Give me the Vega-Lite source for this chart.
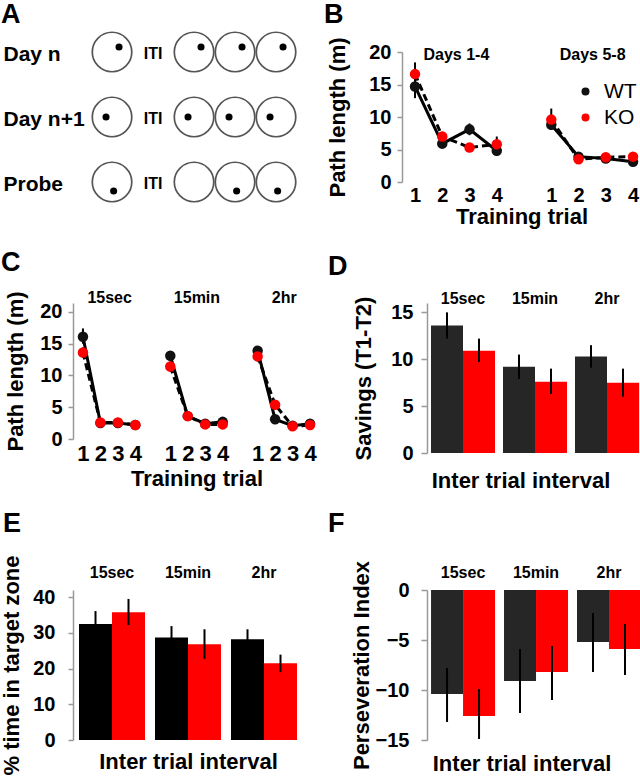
{
  "$schema": "https://vega.github.io/schema/vega-lite/v6.json",
  "background": "#ffffff",
  "padding": {"left": 0, "top": 0, "right": 0, "bottom": 0},
  "columns": 2,
  "bounds": "flush",
  "spacing": {"row": 121, "column": 82},
  "resolve": {
    "scale": {"color": "independent"},
    "legend": {"color": "independent"}
  },
  "config": {
    "font": "Liberation Sans",
    "view": {"stroke": null},
    "axis": {
      "grid": false, "domainColor": "#999999", "tickColor": "#999999", "domainWidth": 1.5, "tickWidth": 1.5,
      "labelFont": "Liberation Sans", "titleFont": "Liberation Sans", "labelFontWeight": "bold", "titleFontWeight": "bold",
      "labelColor": "#000000", "titleColor": "#000000", "labelFontSize": 20, "titleFontSize": 22
    },
    "title": {"font": "Liberation Sans", "fontSize": 27, "fontWeight": "bold", "anchor": "start", "frame": "group", "baseline": "alphabetic", "color": "#000000"},
    "text": {"font": "Liberation Sans", "color": "#000000"}
  },
  "datasets": {
    "pools": [
      {"session": "Day n", "stage": "Trial 1"}, {"session": "Day n", "stage": "Trial 2"}, {"session": "Day n", "stage": "Trial 3"}, {"session": "Day n", "stage": "Trial 4"},
      {"session": "Day n+1", "stage": "Trial 1"}, {"session": "Day n+1", "stage": "Trial 2"}, {"session": "Day n+1", "stage": "Trial 3"}, {"session": "Day n+1", "stage": "Trial 4"},
      {"session": "Probe", "stage": "Trial 1"}, {"session": "Probe", "stage": "Trial 2"}, {"session": "Probe", "stage": "Trial 3"}, {"session": "Probe", "stage": "Trial 4"}
    ],
    "platforms": [
      {"session": "Day n", "stage": "Trial 1", "px": 0.35, "py": 0.25},
      {"session": "Day n", "stage": "Trial 2", "px": 0.35, "py": 0.25},
      {"session": "Day n", "stage": "Trial 3", "px": 0.35, "py": 0.25},
      {"session": "Day n", "stage": "Trial 4", "px": 0.35, "py": 0.25},
      {"session": "Day n+1", "stage": "Trial 1", "px": -0.3, "py": 0},
      {"session": "Day n+1", "stage": "Trial 2", "px": -0.3, "py": 0},
      {"session": "Day n+1", "stage": "Trial 3", "px": -0.3, "py": 0},
      {"session": "Day n+1", "stage": "Trial 4", "px": -0.3, "py": 0},
      {"session": "Probe", "stage": "Trial 1", "px": 0.08, "py": -0.45},
      {"session": "Probe", "stage": "Trial 3", "px": 0.08, "py": -0.45},
      {"session": "Probe", "stage": "Trial 4", "px": 0.08, "py": -0.45}
    ],
    "iti": [
      {"session": "Day n", "stage": "ITI", "label": "ITI"},
      {"session": "Day n+1", "stage": "ITI", "label": "ITI"},
      {"session": "Probe", "stage": "ITI", "label": "ITI"}
    ],
    "pathB": [
      {"session": "Days 1-4", "trial": 1, "key": "Days 1-4, trial 1", "genotype": "WT", "mean": 14.7, "lo": 12.9, "hi": 16.5},
      {"session": "Days 1-4", "trial": 2, "key": "Days 1-4, trial 2", "genotype": "WT", "mean": 5.9, "lo": 5.3, "hi": 6.5},
      {"session": "Days 1-4", "trial": 3, "key": "Days 1-4, trial 3", "genotype": "WT", "mean": 8.1, "lo": 7.2, "hi": 9.0},
      {"session": "Days 1-4", "trial": 4, "key": "Days 1-4, trial 4", "genotype": "WT", "mean": 4.8, "lo": 4.0, "hi": 5.6},
      {"session": "Days 5-8", "trial": 1, "key": "Days 5-8, trial 1", "genotype": "WT", "mean": 8.8, "lo": 8.0, "hi": 9.6},
      {"session": "Days 5-8", "trial": 2, "key": "Days 5-8, trial 2", "genotype": "WT", "mean": 3.9, "lo": 3.6, "hi": 4.2},
      {"session": "Days 5-8", "trial": 3, "key": "Days 5-8, trial 3", "genotype": "WT", "mean": 3.6, "lo": 3.3, "hi": 3.9},
      {"session": "Days 5-8", "trial": 4, "key": "Days 5-8, trial 4", "genotype": "WT", "mean": 3.1, "lo": 2.8, "hi": 3.4},
      {"session": "Days 1-4", "trial": 1, "key": "Days 1-4, trial 1", "genotype": "KO", "mean": 16.6, "lo": 14.8, "hi": 18.4},
      {"session": "Days 1-4", "trial": 2, "key": "Days 1-4, trial 2", "genotype": "KO", "mean": 7.0, "lo": 6.3, "hi": 7.7},
      {"session": "Days 1-4", "trial": 3, "key": "Days 1-4, trial 3", "genotype": "KO", "mean": 5.3, "lo": 4.8, "hi": 5.8},
      {"session": "Days 1-4", "trial": 4, "key": "Days 1-4, trial 4", "genotype": "KO", "mean": 5.8, "lo": 4.9, "hi": 7.0},
      {"session": "Days 5-8", "trial": 1, "key": "Days 5-8, trial 1", "genotype": "KO", "mean": 9.6, "lo": 8.2, "hi": 11.3},
      {"session": "Days 5-8", "trial": 2, "key": "Days 5-8, trial 2", "genotype": "KO", "mean": 3.5, "lo": 3.2, "hi": 3.8},
      {"session": "Days 5-8", "trial": 3, "key": "Days 5-8, trial 3", "genotype": "KO", "mean": 3.8, "lo": 3.5, "hi": 4.1},
      {"session": "Days 5-8", "trial": 4, "key": "Days 5-8, trial 4", "genotype": "KO", "mean": 3.9, "lo": 3.5, "hi": 4.3}
    ],
    "pathC": [
      {"interval": "15sec", "trial": 1, "key": "15sec, trial 1", "genotype": "WT", "mean": 16.1, "lo": 15.0, "hi": 17.4},
      {"interval": "15sec", "trial": 2, "key": "15sec, trial 2", "genotype": "WT", "mean": 2.5, "lo": 2.2, "hi": 2.8},
      {"interval": "15sec", "trial": 3, "key": "15sec, trial 3", "genotype": "WT", "mean": 2.5, "lo": 2.2, "hi": 2.8},
      {"interval": "15sec", "trial": 4, "key": "15sec, trial 4", "genotype": "WT", "mean": 2.2, "lo": 1.9, "hi": 2.5},
      {"interval": "15min", "trial": 1, "key": "15min, trial 1", "genotype": "WT", "mean": 13.1, "lo": 12.4, "hi": 13.8},
      {"interval": "15min", "trial": 2, "key": "15min, trial 2", "genotype": "WT", "mean": 3.6, "lo": 3.2, "hi": 4.0},
      {"interval": "15min", "trial": 3, "key": "15min, trial 3", "genotype": "WT", "mean": 2.4, "lo": 2.1, "hi": 2.7},
      {"interval": "15min", "trial": 4, "key": "15min, trial 4", "genotype": "WT", "mean": 2.7, "lo": 2.4, "hi": 3.0},
      {"interval": "2hr", "trial": 1, "key": "2hr, trial 1", "genotype": "WT", "mean": 13.9, "lo": 13.2, "hi": 14.6},
      {"interval": "2hr", "trial": 2, "key": "2hr, trial 2", "genotype": "WT", "mean": 3.1, "lo": 2.7, "hi": 3.5},
      {"interval": "2hr", "trial": 3, "key": "2hr, trial 3", "genotype": "WT", "mean": 2.1, "lo": 1.8, "hi": 2.4},
      {"interval": "2hr", "trial": 4, "key": "2hr, trial 4", "genotype": "WT", "mean": 2.4, "lo": 2.1, "hi": 2.7},
      {"interval": "15sec", "trial": 1, "key": "15sec, trial 1", "genotype": "KO", "mean": 13.6, "lo": 12.8, "hi": 14.4},
      {"interval": "15sec", "trial": 2, "key": "15sec, trial 2", "genotype": "KO", "mean": 2.6, "lo": 2.3, "hi": 2.9},
      {"interval": "15sec", "trial": 3, "key": "15sec, trial 3", "genotype": "KO", "mean": 2.6, "lo": 2.3, "hi": 2.9},
      {"interval": "15sec", "trial": 4, "key": "15sec, trial 4", "genotype": "KO", "mean": 2.2, "lo": 1.9, "hi": 2.5},
      {"interval": "15min", "trial": 1, "key": "15min, trial 1", "genotype": "KO", "mean": 11.4, "lo": 10.6, "hi": 12.2},
      {"interval": "15min", "trial": 2, "key": "15min, trial 2", "genotype": "KO", "mean": 3.6, "lo": 3.2, "hi": 4.0},
      {"interval": "15min", "trial": 3, "key": "15min, trial 3", "genotype": "KO", "mean": 2.3, "lo": 2.0, "hi": 2.6},
      {"interval": "15min", "trial": 4, "key": "15min, trial 4", "genotype": "KO", "mean": 2.3, "lo": 2.0, "hi": 2.6},
      {"interval": "2hr", "trial": 1, "key": "2hr, trial 1", "genotype": "KO", "mean": 13.0, "lo": 12.2, "hi": 13.8},
      {"interval": "2hr", "trial": 2, "key": "2hr, trial 2", "genotype": "KO", "mean": 5.4, "lo": 4.9, "hi": 5.9},
      {"interval": "2hr", "trial": 3, "key": "2hr, trial 3", "genotype": "KO", "mean": 2.0, "lo": 1.7, "hi": 2.3},
      {"interval": "2hr", "trial": 4, "key": "2hr, trial 4", "genotype": "KO", "mean": 2.2, "lo": 1.9, "hi": 2.5}
    ],
    "savings": [
      {"interval": "15sec", "genotype": "WT", "mean": 13.6, "lo": 12.2, "hi": 15.0},
      {"interval": "15sec", "genotype": "KO", "mean": 10.9, "lo": 9.7, "hi": 12.2},
      {"interval": "15min", "genotype": "WT", "mean": 9.2, "lo": 7.9, "hi": 10.5},
      {"interval": "15min", "genotype": "KO", "mean": 7.6, "lo": 6.3, "hi": 9.0},
      {"interval": "2hr", "genotype": "WT", "mean": 10.3, "lo": 9.1, "hi": 11.5},
      {"interval": "2hr", "genotype": "KO", "mean": 7.5, "lo": 6.0, "hi": 9.0}
    ],
    "targetTime": [
      {"interval": "15sec", "genotype": "WT", "mean": 32.5, "lo": 28.8, "hi": 36.1},
      {"interval": "15sec", "genotype": "KO", "mean": 35.8, "lo": 32.2, "hi": 39.5},
      {"interval": "15min", "genotype": "WT", "mean": 28.7, "lo": 25.6, "hi": 31.9},
      {"interval": "15min", "genotype": "KO", "mean": 26.8, "lo": 22.7, "hi": 31.0},
      {"interval": "2hr", "genotype": "WT", "mean": 28.2, "lo": 25.8, "hi": 31.0},
      {"interval": "2hr", "genotype": "KO", "mean": 21.5, "lo": 19.0, "hi": 23.9}
    ],
    "perseveration": [
      {"interval": "15sec", "genotype": "WT", "mean": -10.4, "lo": -13.2, "hi": -7.8},
      {"interval": "15sec", "genotype": "KO", "mean": -12.6, "lo": -14.9, "hi": -9.9},
      {"interval": "15min", "genotype": "WT", "mean": -9.1, "lo": -12.3, "hi": -5.9},
      {"interval": "15min", "genotype": "KO", "mean": -8.2, "lo": -11.0, "hi": -5.6},
      {"interval": "2hr", "genotype": "WT", "mean": -5.2, "lo": -8.2, "hi": -2.3},
      {"interval": "2hr", "genotype": "KO", "mean": -5.9, "lo": -8.5, "hi": -3.4}
    ]
  },
  "concat": [
    {
      "width": 246, "height": 130,
      "title": {"text": "A", "dx": -72, "offset": 0},
      "encoding": {
        "x": {"field": "stage", "type": "nominal", "scale": {"type": "point", "domain": ["Trial 1", "ITI", "Trial 2", "Trial 3", "Trial 4"], "padding": 1, "align": 0.476}, "axis": null},
        "y": {"field": "session", "type": "nominal", "scale": {"type": "point", "domain": ["Day n", "Day n+1", "Probe"], "padding": 0},
          "axis": {"orient": "left", "domain": false, "ticks": false, "tickSize": 0, "labelAlign": "left", "labelPadding": 70, "labelFontSize": 21, "labelBaseline": "middle", "labelOffset": 2, "title": null, "minExtent": 0, "maxExtent": 0}}
      },
      "layer": [
        {"data": {"name": "pools"}, "mark": {"type": "point", "shape": "circle", "filled": false, "size": 1560, "color": "#555555", "strokeWidth": 1.7, "opacity": 1}},
        {"data": {"name": "platforms"}, "mark": {"type": "point", "shape": "circle", "filled": true, "size": 50, "color": "#000000", "opacity": 1},
          "encoding": {
            "xOffset": {"field": "px", "type": "quantitative", "scale": {"domain": [-1, 1], "range": [-20, 20]}},
            "yOffset": {"field": "py", "type": "quantitative", "scale": {"domain": [-1, 1], "range": [20, -20]}}
          }},
        {"data": {"name": "iti"}, "mark": {"type": "text", "fontSize": 16, "fontWeight": "bold", "baseline": "middle", "dy": 2},
          "encoding": {"text": {"field": "label", "type": "nominal"}}}
      ]
    },
    {
      "width": 239, "height": 130,
      "title": {"text": "B", "dx": -78, "offset": 8},
      "data": {"name": "pathB"},
      "resolve": {"axis": {"x": "independent"}},
      "encoding": {
        "y": {"field": "mean", "type": "quantitative", "title": "Path length (m)", "scale": {"domain": [0, 20], "nice": false},
          "axis": {"values": [0, 5, 10, 15, 20], "tickSize": 5, "labelPadding": 6, "minExtent": 33, "maxExtent": 33, "titlePadding": 19.5}}
      },
      "layer": [
        {"transform": [{"filter": "datum.genotype === 'WT'"}],
          "mark": {"type": "line", "color": "#000000", "strokeWidth": 3},
          "encoding": {
            "x": {"field": "key", "type": "nominal",
              "scale": {"type": "point", "domain": ["Days 1-4, trial 1", "Days 1-4, trial 2", "Days 1-4, trial 3", "Days 1-4, trial 4", " ", "Days 5-8, trial 1", "Days 5-8, trial 2", "Days 5-8, trial 3", "Days 5-8, trial 4"], "padding": 0.385, "align": 0.62},
              "axis": {"orient": "bottom", "domain": false, "ticks": false, "tickSize": 0, "labelExpr": "slice(datum.label, -1)", "labelAngle": 0, "labelFontSize": 20, "labelPadding": 3, "labelOverlap": false, "title": "Training trial", "titlePadding": 4, "minExtent": 20, "maxExtent": 20}},
            "detail": {"field": "session"}}},
        {"transform": [{"filter": "datum.genotype === 'KO'"}],
          "mark": {"type": "line", "color": "#000000", "strokeWidth": 3, "strokeDash": [7, 4]},
          "encoding": {
            "x": {"field": "key", "type": "nominal", "axis": null},
            "detail": {"field": "session"}}},
        {"mark": {"type": "rule", "color": "#000000", "strokeWidth": 2},
          "encoding": {
            "x": {"field": "key", "type": "nominal",
              "axis": {"orient": "top", "domain": false, "ticks": false, "tickSize": 0, "labelAngle": 0, "labelFontSize": 16, "labelBaseline": "middle", "labelPadding": -2, "labelOffset": 13.6, "labelOverlap": false,
                "labelExpr": "indexof(datum.label, 'trial 2') >= 0 ? split(datum.label, ',')[0] : ''", "title": null}},
            "y": {"field": "lo", "type": "quantitative", "title": "Path length (m)"}, "y2": {"field": "hi"}}},
        {"mark": {"type": "point", "filled": true, "size": 110, "opacity": 1},
          "encoding": {
            "x": {"field": "key", "type": "nominal", "axis": null},
            "color": {"field": "genotype", "type": "nominal", "scale": {"domain": ["WT", "KO"], "range": ["#111111", "#ff0000"]},
              "legend": {"orient": "none", "legendX": 173, "legendY": 29, "title": null, "symbolType": "circle", "symbolSize": 64,
                "labelFontSize": 21, "labelFontWeight": "normal", "labelFont": "Liberation Sans", "labelOffset": 8, "rowPadding": 4,
                "encode": {"labels": {"fill": {"condition": {"test": "datum.value === 'KO'", "value": "#ff0000"}, "value": "#000000"}}}}}}}
      ]
    },
    {
      "width": 247, "height": 136,
      "title": {"text": "C", "dx": -72, "offset": 12},
      "data": {"name": "pathC"},
      "resolve": {"axis": {"x": "independent"}},
      "encoding": {
        "y": {"field": "mean", "type": "quantitative", "title": "Path length (m)", "scale": {"domain": [0, 21.4], "nice": false},
          "axis": {"values": [0, 5, 10, 15, 20], "tickSize": 5, "labelPadding": 6, "minExtent": 33, "maxExtent": 33, "titlePadding": 12.5}}
      },
      "layer": [
        {"transform": [{"filter": "datum.genotype === 'WT'"}],
          "mark": {"type": "line", "color": "#000000", "strokeWidth": 3},
          "encoding": {
            "x": {"field": "key", "type": "nominal",
              "scale": {"type": "point", "domain": ["15sec, trial 1", "15sec, trial 2", "15sec, trial 3", "15sec, trial 4", " ", "15min, trial 1", "15min, trial 2", "15min, trial 3", "15min, trial 4", "  ", "2hr, trial 1", "2hr, trial 2", "2hr, trial 3", "2hr, trial 4"], "padding": 0.57},
              "axis": {"orient": "bottom", "domain": false, "ticks": false, "tickSize": 0, "labelExpr": "slice(datum.label, -1)", "labelAngle": 0, "labelFontSize": 22, "labelPadding": 4, "labelOverlap": false, "title": "Training trial", "titlePadding": 7, "minExtent": 22, "maxExtent": 22}},
            "detail": {"field": "interval"}}},
        {"transform": [{"filter": "datum.genotype === 'KO'"}],
          "mark": {"type": "line", "color": "#000000", "strokeWidth": 3, "strokeDash": [7, 4]},
          "encoding": {
            "x": {"field": "key", "type": "nominal", "axis": null},
            "detail": {"field": "interval"}}},
        {"mark": {"type": "rule", "color": "#000000", "strokeWidth": 2},
          "encoding": {
            "x": {"field": "key", "type": "nominal",
              "axis": {"orient": "top", "domain": false, "ticks": false, "tickSize": 0, "labelAngle": 0, "labelFontSize": 16, "labelBaseline": "middle", "labelPadding": 6, "labelOffset": 8.7, "labelOverlap": false,
                "labelExpr": "indexof(datum.label, 'trial 2') >= 0 ? split(datum.label, ',')[0] : ''", "title": null}},
            "y": {"field": "lo", "type": "quantitative", "title": "Path length (m)"}, "y2": {"field": "hi"}}},
        {"mark": {"type": "point", "filled": true, "size": 110, "opacity": 1},
          "encoding": {
            "x": {"field": "key", "type": "nominal", "axis": null},
            "color": {"field": "genotype", "type": "nominal", "scale": {"domain": ["WT", "KO"], "range": ["#111111", "#ff0000"]}, "legend": null}}}
      ]
    },
    {
      "width": 237, "height": 150,
      "title": {"text": "D", "dx": -74, "offset": 9},
      "data": {"name": "savings"},
      "resolve": {"axis": {"x": "independent"}},
      "layer": [
        {"mark": {"type": "bar"},
          "encoding": {
            "x": {"field": "interval", "type": "nominal", "scale": {"domain": ["15sec", "15min", "2hr"], "paddingInner": 0.111, "paddingOuter": 0.2014, "align": 1},
              "axis": {"orient": "top", "domain": false, "ticks": false, "tickSize": 0, "labelAngle": 0, "labelFontSize": 16, "labelPadding": 0, "labelBaseline": "alphabetic", "title": null}},
            "xOffset": {"field": "genotype", "type": "nominal", "scale": {"domain": ["WT", "KO"]}},
            "y": {"field": "mean", "type": "quantitative", "title": "Savings (T1-T2)", "scale": {"domain": [0, 16], "nice": false},
              "axis": {"values": [0, 5, 10, 15], "offset": -25, "tickSize": 6, "labelPadding": 8, "minExtent": 36, "maxExtent": 36, "titlePadding": 15.5}},
            "color": {"field": "genotype", "type": "nominal", "scale": {"domain": ["WT", "KO"], "range": ["#262626", "#ff0000"]}, "legend": null}
          }},
        {"mark": {"type": "rule", "color": "#000000", "strokeWidth": 2},
          "encoding": {
            "x": {"field": "interval", "type": "nominal", "axis": {"orient": "bottom", "labels": false, "domain": false, "ticks": false, "tickSize": 0, "title": "Inter trial interval", "titlePadding": 17, "minExtent": 0, "maxExtent": 0}},
            "xOffset": {"field": "genotype", "type": "nominal"},
            "y": {"field": "lo", "type": "quantitative", "title": "Savings (T1-T2)"},
            "y2": {"field": "hi"}
          }}
      ]
    },
    {
      "width": 230, "height": 166,
      "title": {"text": "E", "dx": -70, "offset": 17},
      "data": {"name": "targetTime"},
      "resolve": {"axis": {"x": "independent"}},
      "layer": [
        {"mark": {"type": "bar"},
          "encoding": {
            "x": {"field": "interval", "type": "nominal", "scale": {"domain": ["15sec", "15min", "2hr"], "paddingInner": 0.1316, "paddingOuter": 0.079},
              "axis": {"orient": "top", "domain": false, "ticks": false, "tickSize": 0, "labelAngle": 0, "labelFontSize": 16, "labelPadding": -3, "labelBaseline": "alphabetic", "title": null}},
            "xOffset": {"field": "genotype", "type": "nominal", "scale": {"domain": ["WT", "KO"]}},
            "y": {"field": "mean", "type": "quantitative", "title": "% time in target zone", "scale": {"domain": [0, 42], "nice": false, "range": [166, 16]},
              "axis": {"values": [0, 10, 20, 30, 40], "tickSize": 5, "labelPadding": 13, "minExtent": 40, "maxExtent": 40, "titlePadding": 9.5}},
            "color": {"field": "genotype", "type": "nominal", "scale": {"domain": ["WT", "KO"], "range": ["#000000", "#ff0000"]}, "legend": null}
          }},
        {"mark": {"type": "rule", "color": "#000000", "strokeWidth": 2},
          "encoding": {
            "x": {"field": "interval", "type": "nominal", "axis": {"orient": "bottom", "labels": false, "domain": false, "ticks": false, "tickSize": 0, "title": "Inter trial interval", "titlePadding": 11, "minExtent": 0, "maxExtent": 0}},
            "xOffset": {"field": "genotype", "type": "nominal"},
            "y": {"field": "lo", "type": "quantitative", "title": "% time in target zone"},
            "y2": {"field": "hi"}
          }}
      ]
    },
    {
      "width": 239, "height": 166,
      "title": {"text": "F", "dx": -74, "offset": 22},
      "data": {"name": "perseveration"},
      "resolve": {"axis": {"x": "independent"}},
      "layer": [
        {"mark": {"type": "bar"},
          "encoding": {
            "x": {"field": "interval", "type": "nominal", "scale": {"domain": ["15sec", "15min", "2hr"], "paddingInner": 0.123, "paddingOuter": 0.199, "align": 1},
              "axis": {"orient": "top", "domain": false, "ticks": false, "tickSize": 0, "labelAngle": 0, "labelFontSize": 16, "labelPadding": -3, "labelBaseline": "alphabetic", "title": null}},
            "xOffset": {"field": "genotype", "type": "nominal", "scale": {"domain": ["WT", "KO"]}},
            "y": {"field": "mean", "type": "quantitative", "title": "Perseveration Index", "scale": {"domain": [-15, 0], "nice": false, "range": [166, 16]},
              "axis": {"values": [0, -5, -10, -15], "offset": -25, "tickSize": 6, "labelPadding": 12, "minExtent": 47, "maxExtent": 47, "titlePadding": 6.5}},
            "color": {"field": "genotype", "type": "nominal", "scale": {"domain": ["WT", "KO"], "range": ["#262626", "#ff0000"]}, "legend": null}
          }},
        {"mark": {"type": "rule", "color": "#000000", "strokeWidth": 2},
          "encoding": {
            "x": {"field": "interval", "type": "nominal", "axis": {"orient": "bottom", "labels": false, "domain": false, "ticks": false, "tickSize": 0, "title": "Inter trial interval", "titlePadding": 13, "minExtent": 0, "maxExtent": 0}},
            "xOffset": {"field": "genotype", "type": "nominal"},
            "y": {"field": "lo", "type": "quantitative", "title": "Perseveration Index"},
            "y2": {"field": "hi"}
          }}
      ]
    }
  ]
}
